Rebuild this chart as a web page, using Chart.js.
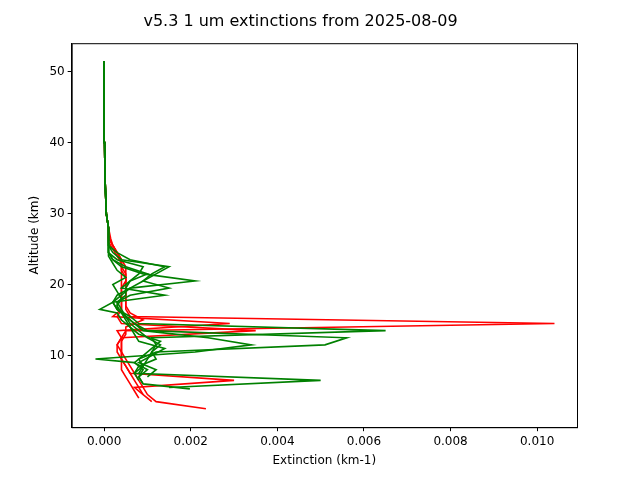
<!DOCTYPE html>
<html><head><script src="https://cdn.jsdelivr.net/npm/chart.js@4"></script>
<style>body{margin:0}#c{width:640px;height:480px}</style></head>
<body><div id="c"><canvas id="cv" width="640" height="480"></canvas></div>
<script>
const top_alt=[28,30,35,40,45,51.5];
const top_ext=[0.0001,0.00005,0.00002,0.00001,0,0];
const x_ticks=[0,0.002,0.004,0.006,0.008,0.010];
const y_ticks=[10,20,30,40,50];
const r1_alt=[2.5,3.5,4.5,5.5,6.5,7.5,8.5,9.5,10.5,11.5,12.5,13.5,14.5,15.5,16.5,17.5,18.5,19.5,20.5,21.5,22.5,23.5,24.5,25.5,26.5];
const r1_ext=[0.00235,0.0012,0.001,0.0009,0.0008,0.0007,0.0006,0.0005,0.0004,0.0004,0.0004,0.0005,0.0104,0.0006,0.0005,0.0005,0.0005,0.0005,0.0005,0.0005,0.0005,0.0004,0.0003,0.0002,0.00015];
const r2_alt=[3.5,4.5,5.5,6.5,7.5,8.5,9.5,10.5,11.5,12.5,13.5,14.5,15.5,16.5,17.5,18.5,19.5,20.5,21.5,22.5,23.5,24.5,25.5,26.5];
const r2_ext=[0.0011,0.0009,0.0007,0.003,0.0006,0.0005,0.0004,0.0004,0.0003,0.0004,0.0035,0.0004,0.0003,0.0004,0.0004,0.0004,0.0004,0.0005,0.0005,0.0004,0.0004,0.0003,0.0002,0.00012];
const r3_alt=[4.5,5.5,6.5,7.5,8.5,9.5,10.5,11.5,12.5,13.5,14.5,15.5,16.5,17.5,18.5,19.5,20.5,21.5,22.5,23.5,24.5,25.5,26.5];
const r3_ext=[0.0009,0.0008,0.0007,0.0006,0.0005,0.0004,0.0003,0.0003,0.0004,0.0003,0.0029,0.0002,0.0004,0.0004,0.0004,0.0004,0.0004,0.0004,0.0004,0.0004,0.0003,0.0002,0.0001];
const r4_alt=[4,5,6,7,8,9,10,11,12,13,14,15,16,17,18,19,20,21,22,23,24,25,26];
const r4_ext=[0.0008,0.0007,0.0006,0.0005,0.0004,0.0004,0.0004,0.0004,0.0004,0.0005,0.0005,0.0009,0.0006,0.0005,0.0005,0.0005,0.0005,0.0005,0.0004,0.0004,0.0003,0.0002,0.0001];
const g1_alt=[7.5,8.5,9.5,10.5,11.5,12.5,13.5,14.5,15.5,16.5,17.5,18.5,19.5,20.5,21.5,22.5,23.5,24.5,25.5];
const g1_ext=[0.0008,0.0009,0.001,0.0011,0.0012,0.0011,0.0065,0.0008,0.0006,0.0003,0.0002,0.0004,0.0006,0.0009,0.0011,0.0014,0.0006,0.0003,0.0001];
const g2_alt=[6.5,7.5,8.5,9.5,10.5,11.5,12.5,13.5,14.5,15.5,16.5,17.5,18.5,19.5,20.5,21.5,22.5,23.5,24.5,25.5];
const g2_ext=[0.0008,0.0007,0.0009,0.0008,0.0012,0.0051,0.0056,0.0010,0.0007,0.0005,0.0003,0.0003,0.0006,0.0015,0.0009,0.0012,0.0015,0.0004,0.0002,0.0001];
const g3_alt=[5.5,6.5,7.5,8.5,9.5,10.5,11.5,12.5,13.5,14.5,15.5,16.5,17.5,18.5,19.5,20.5,21.5,22.5,23.5,24.5];
const g3_ext=[0.0015,0.005,0.0007,0.0008,0.0012,0.0011,0.0013,0.0010,0.0008,0.0006,0.0005,0.0003,0.0002,0.0003,0.0006,0.0021,0.0009,0.0004,0.0002,0.0001];
const g4_alt=[6,7,8,9,9.5,10.5,11.5,12.5,13.5,14.5,15.5,16.5,17.5,18.5,19.5,20.5,21.5,22.5,23.5,24.5];
const g4_ext=[0.0009,0.0008,0.0009,0.0007,-0.0002,0.0021,0.0034,0.0024,0.0009,0.0007,0.0005,0.0004,0.0003,0.0005,0.0005,0.0006,0.0010,0.0005,0.0002,0.0001];
const g5_alt=[7,8,9,10,11,12,13,14,15,16,16.5,17.5,18.5,19.5,20.5,21.5,22.5,23.5,24.5];
const g5_ext=[0.0010,0.0012,0.0008,0.0011,0.0014,0.0008,0.0007,0.0006,0.0004,0.0003,-0.0001,0.0002,0.0014,0.0004,0.0006,0.0008,0.0009,0.0003,0.0001];
const g6_alt=[5.3,6,7,8,9,10,11,12,13,14,15,16,17,18,19,20,21,22,23,24];
const g6_ext=[0.00198,0.0009,0.0008,0.0010,0.0007,0.0009,0.0011,0.0013,0.0008,0.0006,0.0005,0.0004,0.0003,0.0004,0.0003,0.0002,0.0005,0.0003,0.0002,0.0001];
const profiles=[[r1_alt,r1_ext,'red'],[r2_alt,r2_ext,'red'],[r3_alt,r3_ext,'red'],[r4_alt,r4_ext,'red'],
[g1_alt,g1_ext,'green'],[g2_alt,g2_ext,'green'],[g3_alt,g3_ext,'green'],[g4_alt,g4_ext,'green'],[g5_alt,g5_ext,'green'],[g6_alt,g6_ext,'green']];
const datasets=profiles.map(([a,e,c],k)=>({order:-k,data:a.concat(top_alt).map((y,i)=>({x:i<a.length?e[i]:top_ext[i-a.length],y})),borderColor:c,borderWidth:1.6,pointRadius:0,showLine:true,fill:false,tension:0}));
const frame={id:'frame',afterDraw(ch){const a=ch.chartArea,c=ch.ctx;c.save();c.strokeStyle='#000';c.lineWidth=1;c.strokeRect(a.left+0.5,a.top+0.5,a.width,a.height);c.restore();}};
const font={size:12,family:'DejaVu Sans'};
new Chart(document.getElementById('cv'),{type:'scatter',data:{datasets},plugins:[frame],
options:{responsive:false,animation:false,layout:{padding:{left:24,right:63,top:8,bottom:8}},
plugins:{legend:{display:false},title:{display:true,text:'v5.3 1 um extinctions from 2025-08-09',color:'#000',font:{size:16,family:'DejaVu Sans',weight:'normal'},padding:{top:4,bottom:12}}},
scales:{x:{min:-0.00075,max:0.01092,afterBuildTicks:s=>{s.ticks=x_ticks.map(v=>({value:v}));},grid:{drawOnChartArea:false,tickLength:4,color:'#000'},border:{color:'#000'},ticks:{color:'#000',font,padding:3,maxRotation:0,callback:v=>v.toFixed(3)},title:{display:true,text:'Extinction (km-1)',color:'#000',font,padding:{top:2}}},
y:{min:-0.1,max:54,afterBuildTicks:s=>{s.ticks=y_ticks.map(v=>({value:v}));},grid:{drawOnChartArea:false,tickLength:4,color:'#000'},border:{color:'#000'},ticks:{color:'#000',font,padding:3},title:{display:true,text:'Altitude (km)',color:'#000',font}}}}});
</script></body></html>
